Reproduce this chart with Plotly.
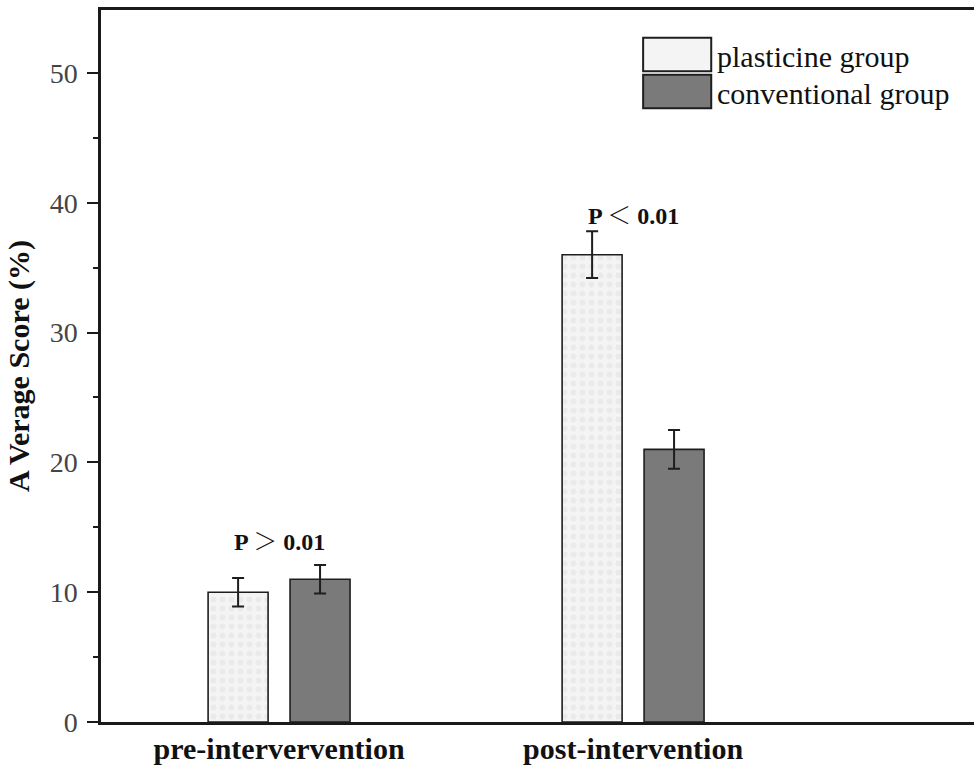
import plotly.graph_objects as go

categories = ["pre-intervervention", "post-intervention"]
series_names = ["plasticine group", "conventional group"]
plasticine_vals = [10.0, 36.0]
plasticine_err = [1.1, 1.8]
conventional_vals = [11.0, 21.0]
conventional_err = [1.1, 1.5]
p_labels = ["P ＞ 0.01", "P ＜ 0.01"]
p_label_y = [13.9, 39.0]
y_ticks = [0, 10, 20, 30, 40, 50]

SERIF = "Liberation Serif, Times New Roman, Noto Serif CJK SC, Noto Sans CJK SC, serif"
LIGHT_FILL = "#f4f4f4"
DARK_FILL = "#7a7a7a"
EDGE = "#1e1e1e"

fig = go.Figure()
fig.add_trace(go.Bar(
    x=categories, y=plasticine_vals, name=series_names[0],
    marker=dict(color=LIGHT_FILL, line=dict(color=EDGE, width=1.6),
                pattern=dict(shape=".", fgcolor="#e0e0e0", bgcolor=LIGHT_FILL, size=9, solidity=0.35)),
    error_y=dict(type="data", array=plasticine_err, color=EDGE, thickness=2, width=6),
    showlegend=False,
))
fig.add_trace(go.Bar(
    x=categories, y=conventional_vals, name=series_names[1],
    marker=dict(color=DARK_FILL, line=dict(color=EDGE, width=1.6)),
    error_y=dict(type="data", array=conventional_err, color=EDGE, thickness=2, width=6),
    showlegend=False,
))

# P-value annotations
for cat, txt, yy in zip(categories, p_labels, p_label_y):
    fig.add_annotation(x=cat, y=yy, text=f"<b>{txt}</b>", showarrow=False,
                       font=dict(family=SERIF, size=24, color="#111"),
                       xanchor="center", yanchor="middle")

# custom legend (large swatches)
legend_fills = [LIGHT_FILL, DARK_FILL]
box_tops = [0.961, 0.909]
box_h = 0.047
for name, fill, top in zip(series_names, legend_fills, box_tops):
    fig.add_shape(type="rect", xref="paper", yref="paper",
                  x0=0.621, x1=0.699, y0=top - box_h, y1=top,
                  fillcolor=fill, line=dict(color=EDGE, width=2))
    fig.add_annotation(xref="paper", yref="paper", x=0.703, y=top - box_h / 2 - 0.003,
                       text=name, showarrow=False, xanchor="left", yanchor="middle",
                       font=dict(family=SERIF, size=30, color="#111"))

fig.update_layout(
    width=974, height=767, autosize=False,
    margin=dict(l=101, r=0, t=10, b=45, pad=0, autoexpand=False),
    paper_bgcolor="white", plot_bgcolor="white",
    barmode="group", bargap=0.537, bargroupgap=0.268,
    font=dict(family=SERIF, color="#222"),
)
fig.update_xaxes(
    type="category", range=[-0.503, 1.963], automargin=False,
    showline=True, linecolor="#1a1a1a", linewidth=2.5, mirror=True,
    ticks="", showgrid=False, zeroline=False,
    tickfont=dict(family=SERIF, size=30, color="#111"),
    ticklabelstandoff=-2,
    tickprefix="<b>", ticksuffix="</b>",
)
fig.update_yaxes(
    range=[0, 54.85], tickvals=y_ticks, automargin=False,
    showline=True, linecolor="#1a1a1a", linewidth=2.5, mirror=False,
    ticks="outside", ticklen=11, tickwidth=2, tickcolor="#1a1a1a",
    minor=dict(ticks="outside", ticklen=5, tickwidth=2, tickcolor="#1a1a1a", dtick=5, showgrid=False),
    showgrid=False, zeroline=False,
    tickfont=dict(family=SERIF, size=28, color="#444"),
    ticklabelstandoff=4,
    title=dict(text="<b>A Verage Score (%)</b>", font=dict(family=SERIF, size=30, color="#111"), standoff=12),
)

fig.write_html("out.html", config={"displayModeBar": False},
               post_script="document.body.style.margin='0px';document.body.style.padding='0px';")
